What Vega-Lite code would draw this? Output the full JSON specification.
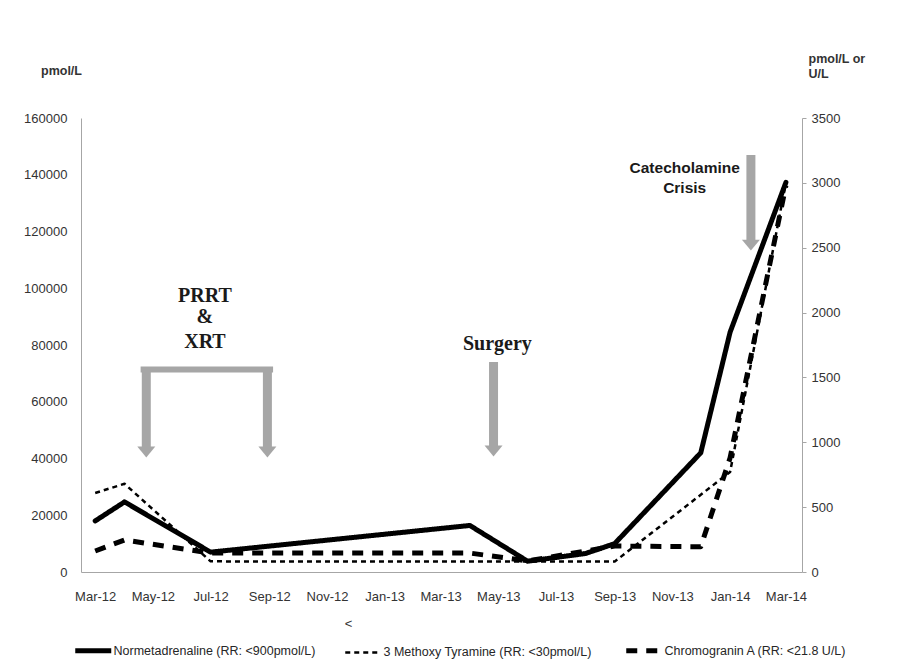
{
  "$schema": "https://vega.github.io/schema/vega-lite/v6.json",
  "width": 721,
  "height": 454,
  "autosize": {"type": "none"},
  "padding": {"left": 81, "top": 118, "right": 120, "bottom": 100},
  "background": "white",
  "config": {
    "view": {"stroke": null},
    "font": "Liberation Sans",
    "axis": {"grid": false, "domainColor": "#a6a6a6", "labelColor": "#333333", "labelFontSize": 13, "labelFont": "Liberation Sans", "titleFont": "Liberation Sans", "titleColor": "#333333"}
  },
  "datasets": {
    "lines": [
      {"series": "Normetadrenaline (RR: <900pmol/L)", "date": "2012-03-01", "value": 18000},
      {"series": "Normetadrenaline (RR: <900pmol/L)", "date": "2012-04-01", "value": 24700},
      {"series": "Normetadrenaline (RR: <900pmol/L)", "date": "2012-07-01", "value": 7000},
      {"series": "Normetadrenaline (RR: <900pmol/L)", "date": "2013-04-01", "value": 16400},
      {"series": "Normetadrenaline (RR: <900pmol/L)", "date": "2013-06-01", "value": 3800},
      {"series": "Normetadrenaline (RR: <900pmol/L)", "date": "2013-08-01", "value": 6500},
      {"series": "Normetadrenaline (RR: <900pmol/L)", "date": "2013-09-01", "value": 10000},
      {"series": "Normetadrenaline (RR: <900pmol/L)", "date": "2013-12-01", "value": 42000},
      {"series": "Normetadrenaline (RR: <900pmol/L)", "date": "2014-01-01", "value": 84500},
      {"series": "Normetadrenaline (RR: <900pmol/L)", "date": "2014-03-01", "value": 137300},
      {"series": "3 Methoxy Tyramine (RR: <30pmol/L)", "date": "2012-03-01", "value": 609},
      {"series": "3 Methoxy Tyramine (RR: <30pmol/L)", "date": "2012-04-01", "value": 680},
      {"series": "3 Methoxy Tyramine (RR: <30pmol/L)", "date": "2012-07-01", "value": 82},
      {"series": "3 Methoxy Tyramine (RR: <30pmol/L)", "date": "2013-04-01", "value": 80},
      {"series": "3 Methoxy Tyramine (RR: <30pmol/L)", "date": "2013-06-01", "value": 80},
      {"series": "3 Methoxy Tyramine (RR: <30pmol/L)", "date": "2013-09-01", "value": 80},
      {"series": "3 Methoxy Tyramine (RR: <30pmol/L)", "date": "2014-01-01", "value": 771},
      {"series": "3 Methoxy Tyramine (RR: <30pmol/L)", "date": "2014-03-01", "value": 3000},
      {"series": "Chromogranin A (RR: <21.8 U/L)", "date": "2012-03-01", "value": 162},
      {"series": "Chromogranin A (RR: <21.8 U/L)", "date": "2012-04-01", "value": 247},
      {"series": "Chromogranin A (RR: <21.8 U/L)", "date": "2012-07-01", "value": 146},
      {"series": "Chromogranin A (RR: <21.8 U/L)", "date": "2013-04-01", "value": 146},
      {"series": "Chromogranin A (RR: <21.8 U/L)", "date": "2013-06-01", "value": 85},
      {"series": "Chromogranin A (RR: <21.8 U/L)", "date": "2013-09-01", "value": 200},
      {"series": "Chromogranin A (RR: <21.8 U/L)", "date": "2013-12-01", "value": 195},
      {"series": "Chromogranin A (RR: <21.8 U/L)", "date": "2014-01-01", "value": 880},
      {"series": "Chromogranin A (RR: <21.8 U/L)", "date": "2014-03-01", "value": 2980}
    ],
    "shafts": [
      {"x": "2012-04-24", "x2": "2012-04-24", "y": 72240, "y2": 44050},
      {"x": "2012-08-30", "x2": "2012-08-30", "y": 72240, "y2": 44050},
      {"x": "2013-04-26", "x2": "2013-04-26", "y": 74000, "y2": 44400},
      {"x": "2014-01-23", "x2": "2014-01-23", "y": 146950, "y2": 116650}
    ],
    "bars": [
      {"x": "2012-04-18", "x2": "2012-09-05", "y": 71400, "y2": 71400}
    ],
    "heads": [
      {"x": "2012-04-24", "y": 42290},
      {"x": "2012-08-30", "y": 42290},
      {"x": "2013-04-26", "y": 42640},
      {"x": "2014-01-23", "y": 115230}
    ],
    "serifNotes": [
      {"x": "2012-06-25", "y": 95150, "label": "PRRT"},
      {"x": "2012-06-25", "y": 87750, "label": "&"},
      {"x": "2012-06-25", "y": 78940, "label": "XRT"},
      {"x": "2013-04-30", "y": 78230, "label": "Surgery"}
    ],
    "sansNotes": [
      {"x": "2013-11-14", "y": 140600, "label": "Catecholamine"},
      {"x": "2013-11-14", "y": 133560, "label": "Crisis"}
    ]
  },
  "layer": [
    {
      "layer": [
        {
          "data": {"name": "lines"},
          "transform": [{"filter": "datum.series === 'Normetadrenaline (RR: <900pmol/L)'"}],
          "mark": {"type": "line", "color": "#000000", "strokeWidth": 5, "strokeCap": "round", "strokeJoin": "round"},
          "encoding": {
            "x": {
              "field": "date", "type": "temporal",
              "scale": {"type": "utc", "domain": [{"year": 2012, "month": 2, "date": 15, "utc": true}, {"year": 2014, "month": 3, "date": 18, "utc": true}]},
              "axis": {
                "values": [
                  {"year": 2012, "month": 3, "date": 1, "utc": true},
                  {"year": 2012, "month": 5, "date": 1, "utc": true},
                  {"year": 2012, "month": 7, "date": 1, "utc": true},
                  {"year": 2012, "month": 9, "date": 1, "utc": true},
                  {"year": 2012, "month": 11, "date": 1, "utc": true},
                  {"year": 2013, "month": 1, "date": 1, "utc": true},
                  {"year": 2013, "month": 3, "date": 1, "utc": true},
                  {"year": 2013, "month": 5, "date": 1, "utc": true},
                  {"year": 2013, "month": 7, "date": 1, "utc": true},
                  {"year": 2013, "month": 9, "date": 1, "utc": true},
                  {"year": 2013, "month": 11, "date": 1, "utc": true},
                  {"year": 2014, "month": 1, "date": 1, "utc": true},
                  {"year": 2014, "month": 3, "date": 1, "utc": true}
                ],
                "format": "%b-%y",
                "ticks": false,
                "labelPadding": 18,
                "labelFlush": false,
                "labelOverlap": false,
                "title": "<",
                "titleFontWeight": "normal",
                "titleFontSize": 13,
                "titleX": 267,
                "titleY": 51,
                "titleAnchor": "middle",
                "titleAlign": "center",
                "titleBaseline": "middle"
              }
            },
            "y": {
              "field": "value", "type": "quantitative",
              "scale": {"domain": [0, 160000], "nice": false},
              "axis": {
                "orient": "left",
                "values": [0, 20000, 40000, 60000, 80000, 100000, 120000, 140000, 160000],
                "format": "d",
                "ticks": false,
                "labelPadding": 14,
                "title": "pmol/L",
                "titleAngle": 0,
                "titleFontSize": 12.5,
                "titleFontWeight": "bold",
                "titleX": -20,
                "titleY": -48,
                "titleAlign": "center",
                "titleBaseline": "middle"
              }
            },
            "strokeDash": {
              "field": "series", "type": "nominal",
              "scale": {
                "domain": ["Normetadrenaline (RR: <900pmol/L)", "3 Methoxy Tyramine (RR: <30pmol/L)", "Chromogranin A (RR: <21.8 U/L)"],
                "range": [[1, 0], [5, 4], [11, 9]]
              },
              "legend": {
                "title": null,
                "orient": "none",
                "direction": "horizontal",
                "legendX": 6,
                "legendY": 526,
                "symbolType": "stroke",
                "symbolSize": 1296,
                "symbolStrokeColor": "#000000",
                "labelFontSize": 12.5,
                "labelColor": "#262626",
                "labelOffset": 14,
                "labelLimit": 400,
                "columnPadding": 24,
                "encode": {
                  "symbols": {
                    "update": {
                      "strokeWidth": {"signal": "datum.value === '3 Methoxy Tyramine (RR: <30pmol/L)' ? 2.5 : 5"}
                    }
                  }
                }
              }
            }
          }
        },
        {
          "data": {"name": "shafts"},
          "mark": {"type": "rule", "color": "#a6a6a6", "strokeWidth": 9},
          "encoding": {
            "x": {"field": "x", "type": "temporal"},
            "x2": {"field": "x2"},
            "y": {"field": "y", "type": "quantitative"},
            "y2": {"field": "y2"}
          }
        },
        {
          "data": {"name": "bars"},
          "mark": {"type": "rule", "color": "#a6a6a6", "strokeWidth": 6},
          "encoding": {
            "x": {"field": "x", "type": "temporal"},
            "x2": {"field": "x2"},
            "y": {"field": "y", "type": "quantitative"},
            "y2": {"field": "y2"}
          }
        },
        {
          "data": {"name": "heads"},
          "mark": {"type": "point", "shape": "M-1,-0.6L1,-0.6L0,0.6Z", "filled": true, "color": "#a6a6a6", "opacity": 1, "size": 324},
          "encoding": {
            "x": {"field": "x", "type": "temporal"},
            "y": {"field": "y", "type": "quantitative"}
          }
        },
        {
          "data": {"name": "serifNotes"},
          "mark": {"type": "text", "font": "Liberation Serif", "fontWeight": "bold", "fontSize": 20, "color": "#1a1a1a", "align": "center", "baseline": "alphabetic"},
          "encoding": {
            "x": {"field": "x", "type": "temporal"},
            "y": {"field": "y", "type": "quantitative"},
            "text": {"field": "label", "type": "nominal"}
          }
        },
        {
          "data": {"name": "sansNotes"},
          "mark": {"type": "text", "font": "Liberation Sans", "fontWeight": "bold", "fontSize": 15.5, "color": "#1a1a1a", "align": "center", "baseline": "alphabetic"},
          "encoding": {
            "x": {"field": "x", "type": "temporal"},
            "y": {"field": "y", "type": "quantitative"},
            "text": {"field": "label", "type": "nominal"}
          }
        }
      ]
    },
    {
      "layer": [
        {
          "data": {"name": "lines"},
          "transform": [{"filter": "datum.series === '3 Methoxy Tyramine (RR: <30pmol/L)'"}],
          "mark": {"type": "line", "color": "#000000", "strokeWidth": 2.5, "strokeJoin": "round"},
          "encoding": {
            "x": {"field": "date", "type": "temporal"},
            "y": {
              "field": "value", "type": "quantitative",
              "scale": {"domain": [0, 3500], "nice": false},
              "axis": {
                "orient": "right",
                "values": [0, 500, 1000, 1500, 2000, 2500, 3000, 3500],
                "format": "d",
                "tickSize": 4,
                "tickColor": "#a6a6a6",
                "labelPadding": 5,
                "title": ["pmol/L or", "U/L"],
                "titleAngle": 0,
                "titleFontSize": 12.5,
                "titleFontWeight": "bold",
                "titleX": 6,
                "titleY": -60,
                "titleAlign": "left",
                "titleBaseline": "middle",
                "titleLineHeight": 15
              }
            },
            "strokeDash": {"field": "series", "type": "nominal"}
          }
        },
        {
          "data": {"name": "lines"},
          "transform": [{"filter": "datum.series === 'Chromogranin A (RR: <21.8 U/L)'"}],
          "mark": {"type": "line", "color": "#000000", "strokeWidth": 5, "strokeJoin": "round"},
          "encoding": {
            "x": {"field": "date", "type": "temporal"},
            "y": {"field": "value", "type": "quantitative"},
            "strokeDash": {"field": "series", "type": "nominal"}
          }
        }
      ]
    }
  ],
  "resolve": {"scale": {"y": "independent"}}
}
